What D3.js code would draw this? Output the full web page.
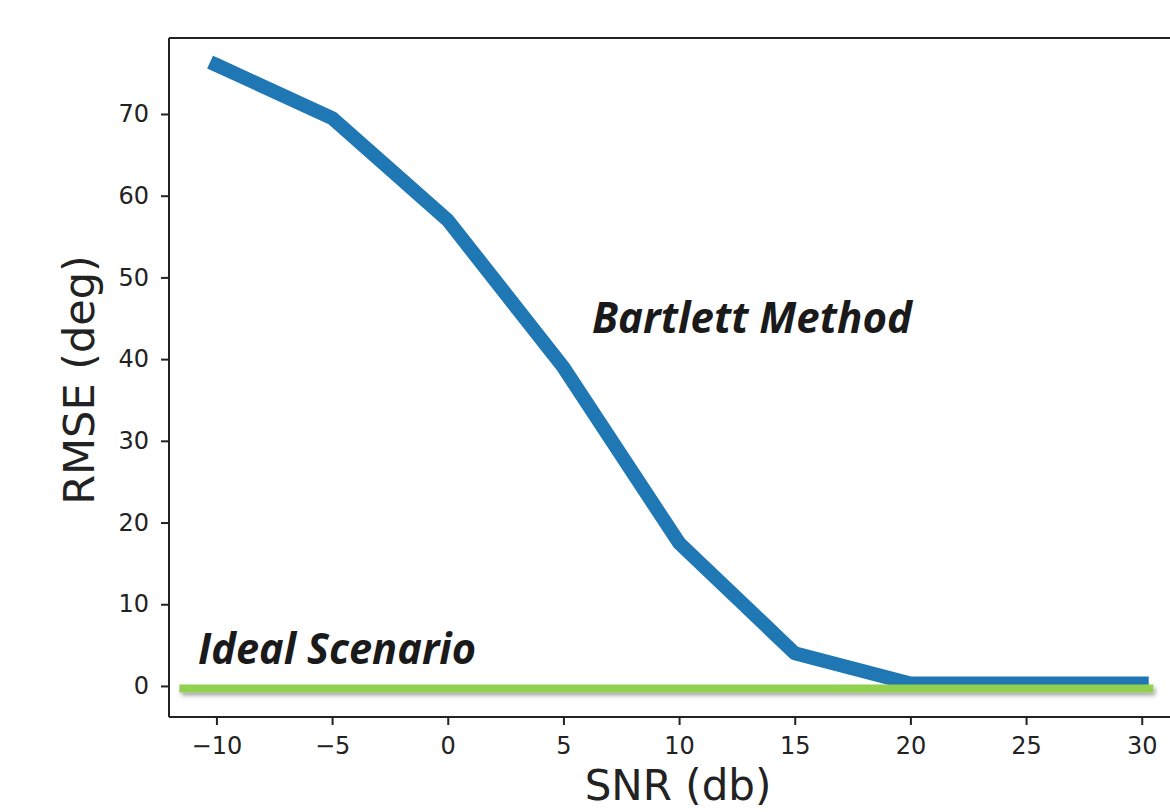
<!DOCTYPE html>
<html><head><meta charset="utf-8">
<script src="https://cdn.jsdelivr.net/npm/d3@7"></script>
<style>body{margin:0;background:#fff;} svg{display:block;}</style>
</head><body>
<svg id="c" width="1170" height="812"></svg>
<script>
const snr = [-10, -5, 0, 5, 10, 15, 20, 25, 30];
const rmse = [76, 69.5, 57, 39, 17.5, 4, 0.3, 0.3, 0.3];
const idealX = [-11.6, 30.5];
const idealY = [-0.3, -0.3];
const xTicks = [-10, -5, 0, 5, 10, 15, 20, 25, 30];
const yTicks = [0, 10, 20, 30, 40, 50, 60, 70];

const svg = d3.select('#c');
const L = 169, T = 38, R = 1188, B = 717;
const x = d3.scaleLinear().domain([-12.05, 32]).range([L, R]);
const y = d3.scaleLinear().domain([-3.8, 79.3]).range([B, T]);

const defs = svg.append('defs');
const f = defs.append('filter').attr('id','sh').attr('filterUnits','userSpaceOnUse')
  .attr('x',0).attr('y',0).attr('width',1170).attr('height',812);
f.append('feDropShadow').attr('dx',2).attr('dy',3).attr('stdDeviation',2).attr('flood-color','#000').attr('flood-opacity',0.35);

const fmt = d => d < 0 ? '\u2212' + Math.abs(d) : String(d);
const font = 'DejaVu Sans, sans-serif';

const line = d3.line().x(d => x(d[0])).y(d => y(d[1]));
svg.append('path').datum(snr.map((s,i)=>[s, rmse[i]]))
  .attr('d', line).attr('fill','none').attr('stroke','#1f77b4').attr('stroke-width',14)
  .attr('stroke-linejoin','round').attr('stroke-linecap','square');

svg.append('path').datum(idealX.map((s,i)=>[s, idealY[i]]))
  .attr('d', line).attr('fill','none').attr('stroke','#92d050').attr('stroke-width',8).attr('filter','url(#sh)');

const xa = svg.append('g').attr('transform',`translate(0,${B})`)
  .call(d3.axisBottom(x).tickValues(xTicks).tickFormat(fmt).tickSize(8).tickPadding(12));
const ya = svg.append('g').attr('transform',`translate(${L},0)`)
  .call(d3.axisLeft(y).tickValues(yTicks).tickFormat(fmt).tickSize(8).tickPadding(12));
[xa, ya].forEach(a => {
  a.select('.domain').attr('stroke','#222').attr('stroke-width',2);
  a.selectAll('.tick line').attr('stroke','#222').attr('stroke-width',2);
  a.selectAll('.tick text').attr('font-family',font).attr('font-size',24).attr('fill','#222');
});
xa.select('.domain').attr('d', `M${L},0H${R}`);
ya.select('.domain').attr('d', `M0,${B}V${T}`);
svg.append('line').attr('x1',L).attr('x2',R).attr('y1',T).attr('y2',T).attr('stroke','#222').attr('stroke-width',2);

svg.append('text').attr('x', 678).attr('y', 800).attr('text-anchor','middle')
  .attr('font-family',font).attr('font-size',42).attr('fill','#222').text('SNR (db)');
svg.append('text').attr('transform','translate(94,380) rotate(-90)').attr('text-anchor','middle')
  .attr('font-family',font).attr('font-size',43).attr('fill','#222').text('RMSE (deg)');

const ann = 'Open Sans, Lato, sans-serif';
svg.append('text').attr('x',592).attr('y',333).attr('font-family',ann).attr('font-style','italic').attr('font-weight',700)
  .attr('font-size',43).attr('fill','#1a1a1a').attr('textLength',320).attr('lengthAdjust','spacingAndGlyphs').text('Bartlett Method');
svg.append('text').attr('x',198).attr('y',664).attr('font-family',ann).attr('font-style','italic').attr('font-weight',700)
  .attr('font-size',43).attr('fill','#1a1a1a').attr('textLength',278).attr('lengthAdjust','spacingAndGlyphs').text('Ideal Scenario');
</script>
</body></html>
